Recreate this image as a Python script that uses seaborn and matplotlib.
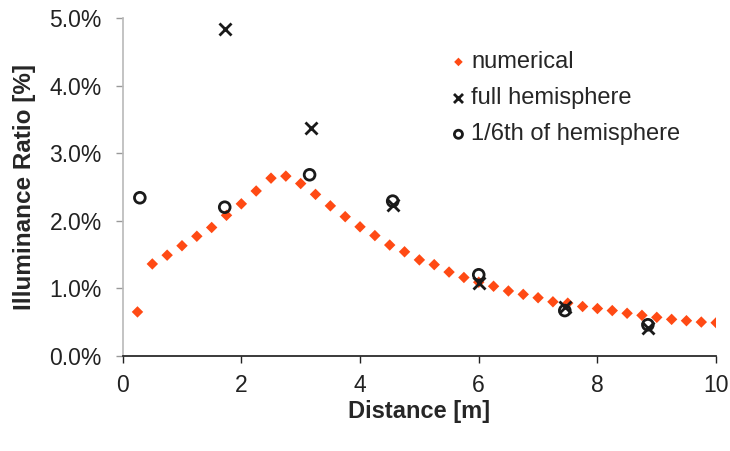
import matplotlib
matplotlib.use("Agg")
import matplotlib.pyplot as plt
import seaborn as sns
import pandas as pd
from matplotlib.ticker import PercentFormatter

# numerical simulation, illuminance ratio in %
num_x = [0.25, 0.5, 0.75, 1.0, 1.25, 1.5, 1.75, 2.0, 2.25, 2.5,
         2.75, 3.0, 3.25, 3.5, 3.75, 4.0, 4.25, 4.5, 4.75, 5.0,
         5.25, 5.5, 5.75, 6.0, 6.25, 6.5, 6.75, 7.0, 7.25, 7.5,
         7.75, 8.0, 8.25, 8.5, 8.75, 9.0, 9.25, 9.5, 9.75, 10.0]
num_y = [0.65, 1.36, 1.49, 1.63, 1.77, 1.90, 2.08, 2.25, 2.44, 2.63,
         2.66, 2.55, 2.39, 2.22, 2.06, 1.91, 1.78, 1.64, 1.54, 1.42,
         1.35, 1.24, 1.16, 1.09, 1.03, 0.96, 0.91, 0.86, 0.80, 0.78,
         0.73, 0.70, 0.67, 0.63, 0.60, 0.57, 0.54, 0.52, 0.50, 0.49]

# measured, full hemisphere
full_x = [1.72, 3.17, 4.55, 6.0, 7.45, 8.85]
full_y = [4.84, 3.37, 2.23, 1.08, 0.73, 0.41]

# measured, 1/6th of hemisphere
sixth_x = [0.29, 1.72, 3.15, 4.55, 6.0, 7.45, 8.85]
sixth_y = [2.34, 2.20, 2.68, 2.29, 1.20, 0.67, 0.46]

sns.set_theme(style="white")
plt.rcParams["font.family"] = ["Liberation Sans", "DejaVu Sans"]

df_num = pd.DataFrame({"x": num_x, "y": num_y})
df_full = pd.DataFrame({"x": full_x, "y": full_y})
df_sixth = pd.DataFrame({"x": sixth_x, "y": sixth_y})

fig = plt.figure(figsize=(7.3, 4.51), dpi=100)
ax = fig.add_axes([0.168, 0.211, 0.813, 0.749])

sns.scatterplot(data=df_num, x="x", y="y", ax=ax, marker="D", s=34,
                color="#FF4A14", edgecolor="none", label="numerical", zorder=2)
sns.scatterplot(data=df_full, x="x", y="y", ax=ax, marker="x", s=75,
                color="#1a1a1a", linewidth=2, label="full hemisphere", zorder=3)
sns.scatterplot(data=df_sixth, x="x", y="y", ax=ax, marker="o", s=60,
                facecolor="none", edgecolor="#1a1a1a", linewidth=2,
                label="1/6th of hemisphere", zorder=3)

ax.set_xlim(0, 10)
ax.set_ylim(0, 5)
ax.set_xticks([0, 2, 4, 6, 8, 10])
ax.set_yticks([0, 1, 2, 3, 4, 5])
ax.yaxis.set_major_formatter(PercentFormatter(xmax=100, decimals=1))
ax.tick_params(axis="both", labelsize=16.5, length=5, width=1,
               direction="out", left=True, bottom=True, colors="#222222")
ax.tick_params(axis="y", color="#999999", pad=10)
ax.tick_params(axis="x", pad=8)

for side in ["top", "right"]:
    ax.spines[side].set_visible(False)
ax.spines["left"].set_color("#bbbbbb")
ax.spines["bottom"].set_color("#222222")

ax.set_xlabel("Distance [m]", fontsize=17, fontweight="bold", labelpad=2)
ax.set_ylabel("Illuminance Ratio [%]", fontsize=17.5, fontweight="bold", labelpad=10)

leg = ax.legend(loc="upper left", bbox_to_anchor=(0.53, 0.93), frameon=False,
                fontsize=17, handletextpad=0.05, handlelength=1.0,
                labelspacing=0.6, borderaxespad=0, markerscale=0.75)

fig.savefig("out.png", dpi=100)
